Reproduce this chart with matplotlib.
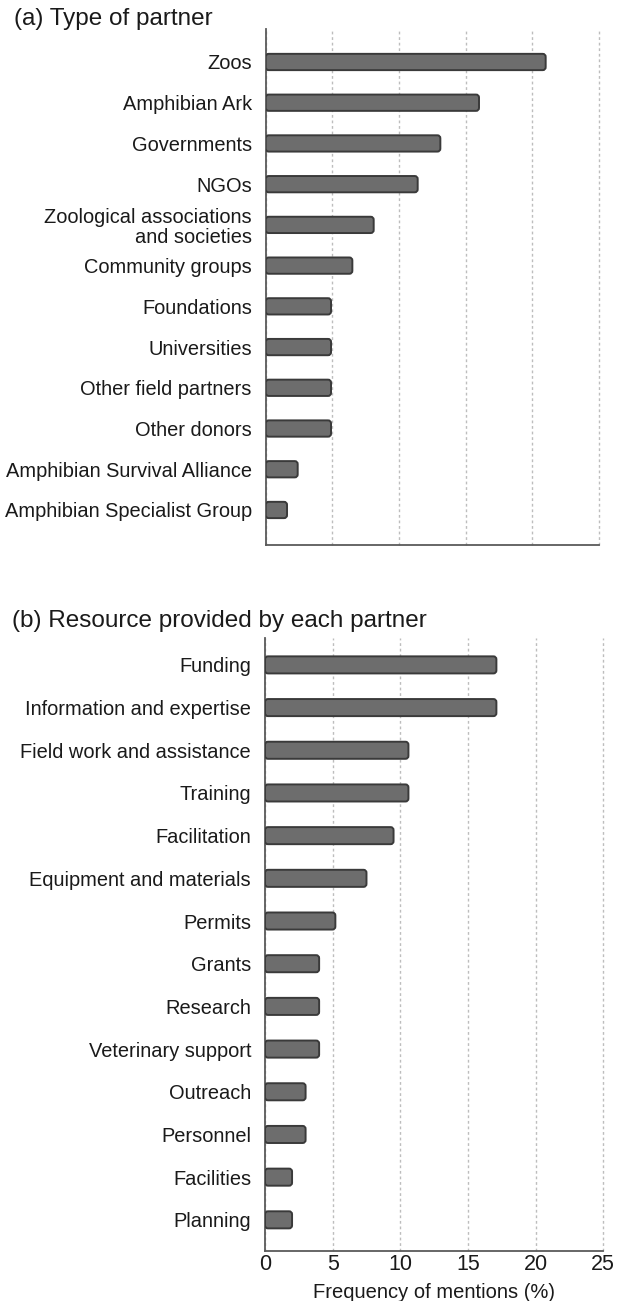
import matplotlib
matplotlib.use("Agg")
import matplotlib.pyplot as plt
from matplotlib.patches import FancyBboxPatch

plt.rcParams['font.family'] = ['Liberation Sans', 'DejaVu Sans']

partners = ["Zoos", "Amphibian Ark", "Governments", "NGOs",
            "Zoological associations\nand societies", "Community groups",
            "Foundations", "Universities", "Other field partners", "Other donors",
            "Amphibian Survival Alliance", "Amphibian Specialist Group"]
partner_vals = [21.0, 16.0, 13.1, 11.4, 8.1, 6.5, 4.9, 4.9, 4.9, 4.9, 2.4, 1.6]

resources = ["Funding", "Information and expertise", "Field work and assistance",
             "Training", "Facilitation", "Equipment and materials", "Permits",
             "Grants", "Research", "Veterinary support", "Outreach", "Personnel",
             "Facilities", "Planning"]
resource_vals = [17.1, 17.1, 10.6, 10.6, 9.5, 7.5, 5.2, 4.0, 4.0, 4.0, 3.0, 3.0, 2.0, 2.0]

xticks = [0, 5, 10, 15, 20, 25]
W, H = 618, 1301
fig = plt.figure(figsize=(W / 100, H / 100), dpi=100)

FILL = "#6d6d6d"
EDGE = "#3a3a3a"
SPINE = "#5a5a5a"
TXT = "#1a1a1a"


def make_axes(left_px, right_px, top_px, bottom_px):
    return fig.add_axes([left_px / W, 1 - bottom_px / H,
                         (right_px - left_px) / W, (bottom_px - top_px) / H])


def draw_panel(ax, labels, vals, ylim, show_x):
    ys = list(range(len(labels)))
    bars = ax.barh(ys, vals, height=0.4, color="none", edgecolor="none")
    ax.set_xlim(0, 25)
    ax.set_ylim(*ylim)
    bb = ax.get_position()
    px_per_x = bb.width * W / 25.0
    px_per_y = bb.height * H / abs(ylim[0] - ylim[1])
    aspect = px_per_x / px_per_y
    r = 3.0 / px_per_x
    for p in bars.patches:
        x0, y0 = p.get_x(), p.get_y()
        w, h = p.get_width(), p.get_height()
        fb = FancyBboxPatch((x0, y0), w, h,
                            boxstyle=f"round,pad=0,rounding_size={r}",
                            mutation_aspect=aspect,
                            facecolor=FILL, edgecolor=EDGE, linewidth=1.4,
                            zorder=3)
        ax.add_patch(fb)
        p.set_visible(False)
    ax.set_yticks(ys)
    ax.set_yticklabels(labels, fontsize=14.4, color=TXT, linespacing=1.1)
    for t in ax.get_yticklabels():
        t.set_horizontalalignment("right")
        t.set_multialignment("right")
    ax.tick_params(axis="y", length=0, pad=10)
    ax.set_xticks(xticks)
    ax.xaxis.grid(True, linestyle=(0, (2, 2)), color="#bdbdbd", linewidth=1.0)
    for gl in ax.get_xgridlines():
        gl.set_clip_on(False)
    ax.set_axisbelow(True)
    if show_x:
        ax.set_xticklabels([str(t) for t in xticks], fontsize=15.5, color=TXT)
        ax.tick_params(axis="x", length=0, pad=2)
        ax.set_xlabel("Frequency of mentions (%)", fontsize=14.5, color=TXT, labelpad=6)
    else:
        ax.tick_params(axis="x", length=0, labelbottom=False)
    for s in ["top", "right"]:
        ax.spines[s].set_visible(False)
    for s in ["left", "bottom"]:
        ax.spines[s].set_color(SPINE)
        ax.spines[s].set_linewidth(1.3)


ax1 = make_axes(265.7, 599, 29, 545)
draw_panel(ax1, partners, partner_vals, (11.86, -0.81), show_x=False)

ax2 = make_axes(265, 603.3, 638, 1251)
draw_panel(ax2, resources, resource_vals, (13.73, -0.63), show_x=True)

fig.text(14 / W, 1 - 19 / H, "(a) Type of partner", fontsize=17.5, va="center", ha="left", color=TXT)
fig.text(12 / W, 1 - 621 / H, "(b) Resource provided by each partner", fontsize=17.5, va="center", ha="left", color=TXT)

fig.savefig("out.png", dpi=100)
